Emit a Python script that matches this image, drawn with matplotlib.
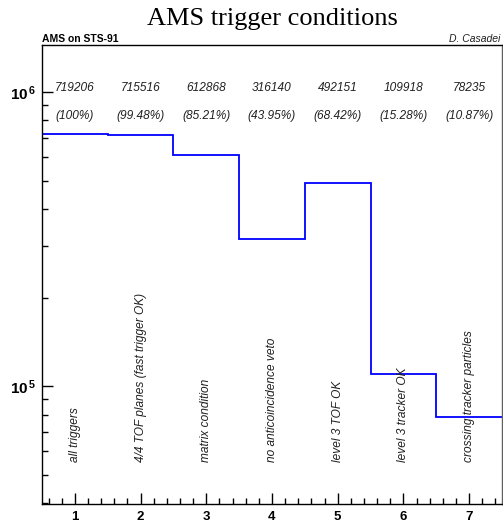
import matplotlib
matplotlib.use("Agg")
import matplotlib.pyplot as plt
import matplotlib.transforms as mtransforms
from matplotlib.ticker import FixedLocator, NullFormatter, MultipleLocator
import numpy as np

# ---- data ----
bins = [1, 2, 3, 4, 5, 6, 7]
counts = [719206, 715516, 612868, 316140, 492151, 109918, 78235]
percent_labels = ["(100%)", "(99.48%)", "(85.21%)", "(43.95%)", "(68.42%)", "(15.28%)", "(10.87%)"]
conditions = ["all triggers", "4/4 TOF planes (fast trigger OK)", "matrix condition",
              "no anticoincidence veto", "level 3 TOF OK", "level 3 tracker OK",
              "crossing tracker particles"]
ytick_vals = [1e5, 1e6]
ytick_labels = [r"$\mathbf{10^{\,5}}$", r"$\mathbf{10^{\,6}}$"]

plt.rcParams['font.family'] = ['Liberation Sans', 'DejaVu Sans']
plt.rcParams['mathtext.fontset'] = 'custom'
plt.rcParams['mathtext.bf'] = 'Liberation Sans:bold'
plt.rcParams['mathtext.rm'] = 'Liberation Sans'

W, H = 503, 527
fig = plt.figure(figsize=(W / 100, H / 100), dpi=100)
L, R, T, B = 42, 502, 45, 504
ax = fig.add_axes([L / W, 1 - B / H, (R - L) / W, (B - T) / H])

edges = np.arange(len(bins) + 1) + 0.5
ax.stairs(counts, edges, color='#0000ff', linewidth=1.3, baseline=None)

ax.set_yscale('log')
ax.set_xlim(0.5, 7.5)
ax.set_ylim(39700, 1.445e6)

ax.yaxis.set_major_locator(FixedLocator(ytick_vals))
ax.set_yticks(ytick_vals)
ax.set_yticklabels(ytick_labels, fontsize=11)
minor = [m * 10 ** e for e in (4, 5) for m in range(2, 10)]
ax.yaxis.set_minor_locator(FixedLocator(minor))
ax.yaxis.set_minor_formatter(NullFormatter())

ax.set_xticks(bins)
ax.set_xticklabels([str(b) for b in bins], fontsize=9.5, fontweight='bold')
ax.xaxis.set_minor_locator(MultipleLocator(0.2))

ax.tick_params(axis='both', which='major', direction='in', length=8, width=1,
               top=False, right=False)
ax.tick_params(axis='both', which='minor', direction='in', length=4, width=1,
               top=False, right=False)
ax.tick_params(axis='y', pad=4)
ax.tick_params(axis='x', pad=5)

for s in ['left', 'bottom', 'top']:
    ax.spines[s].set_color('black')
    ax.spines[s].set_linewidth(1)
ax.spines['right'].set_color('#606060')
ax.spines['right'].set_linewidth(1)

trans = mtransforms.blended_transform_factory(ax.transData, ax.transAxes)
for b, c, p, cond in zip(bins, counts, percent_labels, conditions):
    ax.text(b, 0.906, str(c), transform=trans, ha='center', va='center',
            fontsize=8.6, style='italic', color='#202020')
    ax.text(b, 0.845, p, transform=trans, ha='center', va='center',
            fontsize=8.6, style='italic', color='#202020')
    ax.text(b, 0.0915, cond, transform=trans, ha='center', va='bottom',
            rotation=90, fontsize=8.6, style='italic', color='#202020')

fig.text((L + R) / 2 / W, 1 - 25 / H, "AMS trigger conditions", ha='center',
         va='baseline', fontsize=19, family='Liberation Serif')
fig.text(L / W, 1 - 42 / H, "AMS on STS-91", ha='left', va='baseline',
         fontsize=7.5, fontweight='bold')
fig.text(500.5 / W, 1 - 42 / H, "D. Casadei", ha='right', va='baseline',
         fontsize=7.5, style='italic', color='#202020')

fig.savefig("out.png", dpi=100)
